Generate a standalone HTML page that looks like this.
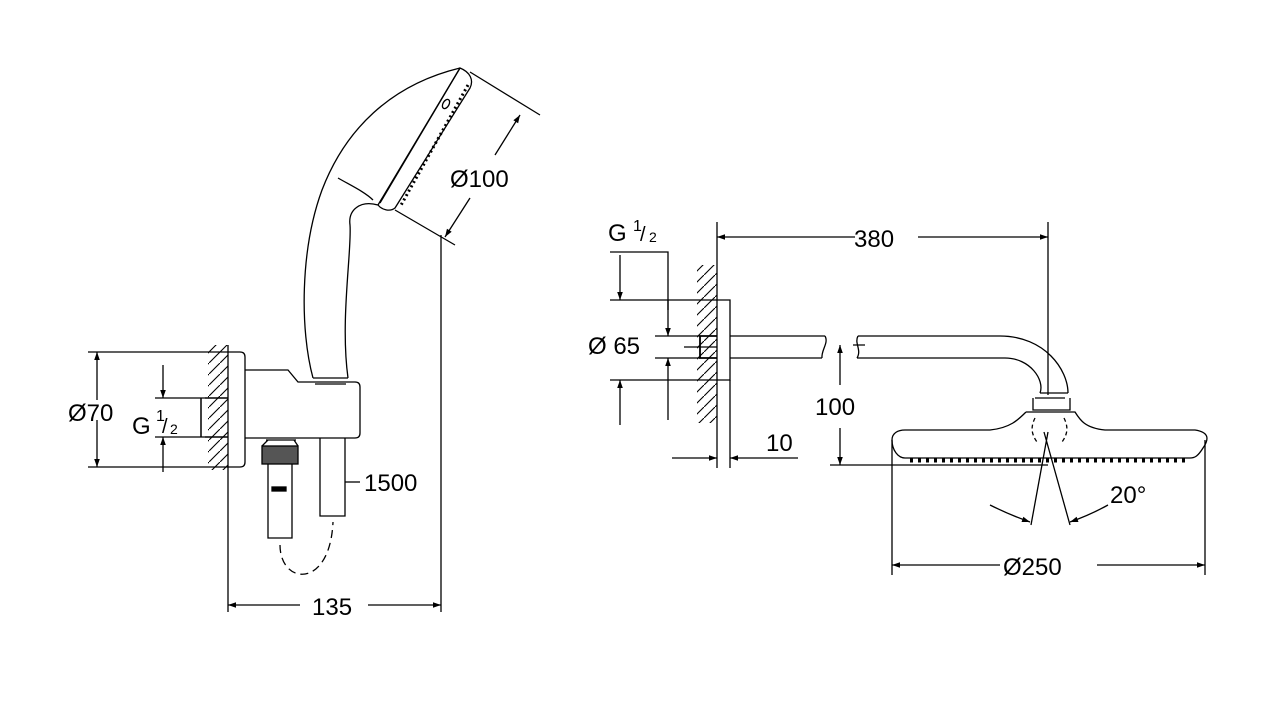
<!DOCTYPE html>
<html><head><meta charset="utf-8"><style>
html,body{margin:0;padding:0;background:#fff;}
svg{display:block;}
text{font-family:"Liberation Sans",sans-serif;fill:#000;}
</style></head><body>
<svg width="1280" height="720" viewBox="0 0 1280 720" xmlns="http://www.w3.org/2000/svg">
<defs>
<marker id="a" viewBox="0 0 10 10" refX="10" refY="5" markerWidth="18" markerHeight="8" markerUnits="userSpaceOnUse" orient="auto"><path d="M0,1.5 L10,5 L0,8.5 z" fill="#000"/></marker>
<pattern id="h" width="11" height="11" patternUnits="userSpaceOnUse"><path d="M-1,12 L12,-1" stroke="#000" stroke-width="1.1"/></pattern>
</defs>
<g fill="none" stroke="#000" stroke-width="1.3">
<!-- LEFT -->
<rect x="208" y="345" width="20" height="125" fill="url(#h)" stroke="none"/>
<line x1="228" y1="345" x2="228" y2="612"/>
<path d="M228,352 H240 Q245,352 245,357 V462 Q245,467 240,467 H228"/>
<path d="M205,398 H228 M205,437 H228 M201,398 V437" stroke-width="1.5"/>
<path d="M245,370 H288 L298,382 H355 Q360,382 360,387 V433 Q360,438 355,438 H245"/>
<!-- handle -->
<path d="M313,378 C300,330 300,250 322,190 C345,130 390,85 460,68"/>
<path d="M348,378 C340,320 352,250 350,225 C348,210 360,200 378,205"/>
<path d="M460,68 C470,72 474,80 470,88 L395,208 C390,212 382,210 378,205 Z"/>
<path d="M460,68 L380,203"/>
<path d="M338,178 C350,185 365,192 373,200"/>
<path d="M313,378 H348 M315,384 H346"/>
<ellipse cx="446" cy="104" rx="3" ry="5" transform="rotate(30 446 104)"/>
<path d="M468,85 L400,207" stroke-dasharray="2 3" stroke-width="3"/>
<!-- hose -->
<rect x="262" y="446" width="36" height="18" fill="#555"/>
<path d="M268,464 V538 H292 V464"/>
<path d="M266,440 H296 M262,446 L268,440 M298,446 L294,440"/>
<rect x="272" y="487" width="14" height="4" fill="#000"/>
<path d="M320,438 V516 H345 V438"/>
<path d="M345,482 H360"/>
<path d="M280,545 C280,585 330,590 333,522" stroke-dasharray="8 5"/>
<!-- dims left -->
<path d="M88,352 H228 M88,467 H228"/>
<line x1="97" y1="400" x2="97" y2="352" marker-end="url(#a)"/>
<line x1="97" y1="420" x2="97" y2="467" marker-end="url(#a)"/>
<path d="M155,398 H205 M155,437 H205"/>
<line x1="163" y1="365" x2="163" y2="398" marker-end="url(#a)"/>
<line x1="163" y1="472" x2="163" y2="437" marker-end="url(#a)"/>
<line x1="441" y1="235" x2="441" y2="612"/>
<line x1="300" y1="605" x2="228" y2="605" marker-end="url(#a)"/>
<line x1="368" y1="605" x2="441" y2="605" marker-end="url(#a)"/>
<path d="M470,72 L540,115 M395,210 L455,245"/>
<line x1="495" y1="155" x2="520" y2="115" marker-end="url(#a)"/>
<line x1="470" y1="198" x2="445" y2="237" marker-end="url(#a)"/>
<!-- RIGHT -->
<rect x="697" y="265" width="20" height="158" fill="url(#h)" stroke="none"/>
<line x1="717" y1="222" x2="717" y2="468"/>
<path d="M717,300 H730 V380 H717"/>
<path d="M717,336 H700 V358 H717" stroke-width="1.8"/>
<path d="M730,336 H825 M730,358 H822"/>
<path d="M825,336 C829,343 821,350 822,358"/>
<path d="M858,336 C854,343 862,350 857,358"/>
<path d="M858,336 H1000 C1045,336 1068,370 1068,393"/>
<path d="M857,358 H1005 C1030,358 1045,380 1040,393"/>
<path d="M1040,393 H1068 M1035,398 H1065 M1033,398 V410 H1070 V398"/>
<path d="M1026,412 H1075 C1080,420 1085,428 1105,430 H1195 C1208,432 1210,438 1203,448 C1198,456 1195,458 1190,458 H905 C898,458 892,450 892,440 C892,433 898,430 905,430 H990 C1010,428 1018,420 1026,412"/>
<path d="M910,460 L1190,460" stroke-dasharray="3 5" stroke-width="5"/>
<path d="M1035,418 C1030,428 1032,435 1037,442 M1064,418 C1069,428 1067,435 1062,442" stroke-dasharray="4 3"/>
<line x1="1048" y1="222" x2="1048" y2="395"/>
<path d="M1048,432 L1031,525 M1044,432 L1070,525"/>
<path d="M990,505 Q1010,515 1030,522" marker-end="url(#a)"/>
<path d="M1108,505 Q1090,515 1070,522" marker-end="url(#a)"/>
<line x1="855" y1="237" x2="717" y2="237" marker-end="url(#a)"/>
<line x1="918" y1="237" x2="1048" y2="237" marker-end="url(#a)"/>
<path d="M610,252 H668 V310"/>
<line x1="668" y1="300" x2="668" y2="336" marker-end="url(#a)"/>
<line x1="668" y1="420" x2="668" y2="358" marker-end="url(#a)"/>
<path d="M610,300 H717 M610,380 H717 M655,336 H700 M655,358 H700 M684,347 H717"/>
<line x1="620" y1="255" x2="620" y2="300" marker-end="url(#a)"/>
<line x1="620" y1="425" x2="620" y2="380" marker-end="url(#a)"/>
<line x1="730" y1="380" x2="730" y2="468"/>
<line x1="672" y1="458" x2="717" y2="458" marker-end="url(#a)"/>
<line x1="798" y1="458" x2="730" y2="458" marker-end="url(#a)"/>
<line x1="840" y1="385" x2="840" y2="345" marker-end="url(#a)"/>
<line x1="840" y1="428" x2="840" y2="465" marker-end="url(#a)"/>
<path d="M830,465 H1048 M853,345 H865"/>
<path d="M892,440 V575 M1205,440 V575"/>
<line x1="1000" y1="565" x2="892" y2="565" marker-end="url(#a)"/>
<line x1="1097" y1="565" x2="1205" y2="565" marker-end="url(#a)"/>
</g>
<g font-size="24">
<text x="68" y="421">Ø70</text>
<text x="132" y="434">G</text>
<text x="156" y="421" font-size="16">1</text>
<text x="162" y="433" font-size="20">/</text>
<text x="170" y="434" font-size="14">2</text>
<text x="450" y="187">Ø100</text>
<text x="364" y="491">1500</text>
<text x="312" y="615">135</text>
<text x="608" y="241">G</text>
<text x="633" y="231" font-size="16">1</text>
<text x="640" y="241" font-size="20">/</text>
<text x="649" y="242" font-size="14">2</text>
<text x="588" y="354">Ø 65</text>
<text x="854" y="247">380</text>
<text x="815" y="415">100</text>
<text x="766" y="451">10</text>
<text x="1110" y="503">20°</text>
<text x="1003" y="575">Ø250</text>
</g>
</svg>
</body></html>
